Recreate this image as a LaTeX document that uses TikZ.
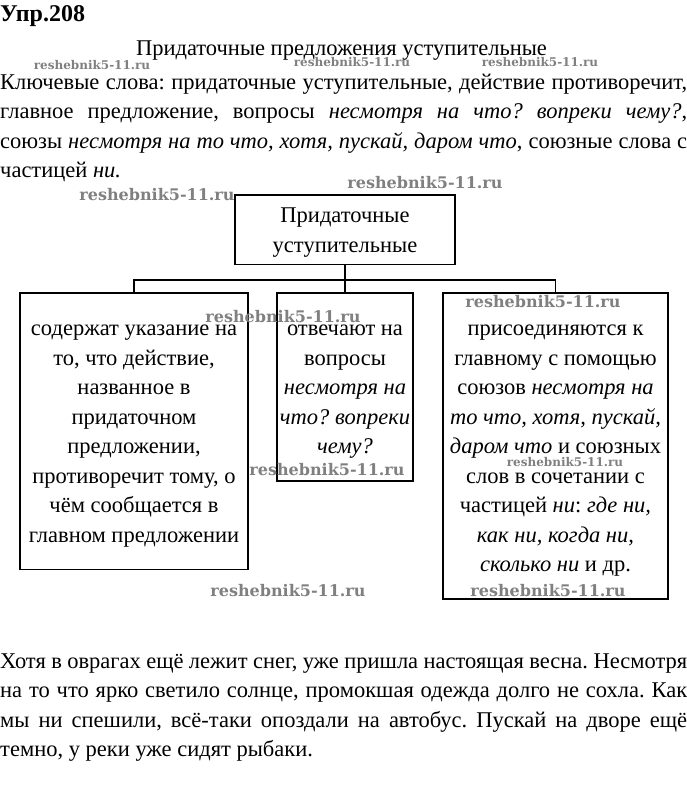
\documentclass[tikz,border=0pt]{standalone}
\usepackage{fontspec}
\setmainfont{Liberation Serif}
\newfontfamily\wmfont{DejaVu Serif}
\usetikzlibrary{positioning}
\newcommand{\txtfont}{\fontsize{22.5bp}{29.5bp}\selectfont}
\frenchspacing

\begin{document}
\begin{tikzpicture}[x=1bp,y=1bp,
  box/.style={draw,line width=1.6bp,align=center,inner xsep=3bp,inner ysep=27bp,text depth=0bp,anchor=north,font=\txtfont},
  link/.style={line width=1.6bp},
  para/.style={inner sep=0pt,text width=687bp,align=justify,anchor=north west,font=\txtfont},
  wm/.style={text=black!50,inner sep=0pt,font=\wmfont\bfseries\fontsize{16bp}{16bp}\selectfont},
  wmsmall/.style={wm,font=\wmfont\bfseries\fontsize{12bp}{12bp}\selectfont}
]
\useasboundingbox (0,0) rectangle (687,-791);
% heading and key words
\node[anchor=base west,inner sep=0pt,font=\bfseries\fontsize{24bp}{26bp}\selectfont] (exNum) at (0,-22) {Упр.208};
\node[anchor=base,inner sep=0pt,font=\txtfont] (heading) at (341.5,-56) {Придаточные предложения уступительные};
\node[para] (keys) at (0,-73) {\rule{0pt}{16bp}Ключевые слова: придаточные уступительные, действие противоречит,\linebreak
  главное предложение, вопросы \textit{несмотря на что? вопреки чему?},\linebreak
  союзы \textit{несмотря на то что, хотя, пускай, даром что}, союзные слова с\linebreak
  частицей \textit{ни.}};
% scheme
\node[box,minimum width=220bp,inner ysep=12bp,text height=45.5bp] (main) at (345,-194) {Придаточные\\уступительные};
\node[box,minimum width=228bp,text height=222.5bp] (meaning) at (134,-292)
  {содержат указание на\\то, что действие,\\названное в\\придаточном\\предложении,\\противоречит тому, о\\чём сообщается в\\главном предложении};
\node[box,minimum width=136bp,text height=134bp] (questions) at (345,-292)
  {отвечают на\\вопросы\\\textit{несмотря на}\\\textit{что? вопреки}\\\textit{чему?}};
\node[box,minimum width=225bp,text height=252bp] (links) at (555.5,-292)
  {присоединяются к\\главному с помощью\\союзов \textit{несмотря на}\\\textit{то что, хотя, пускай,}\\\textit{даром что} и союзных\\слов в сочетании с\\частицей \textit{ни}: \textit{где ни,}\\\textit{как ни, когда ни,}\\\textit{сколько ни} и др.};
\coordinate (hub) at (345,-280);
\draw[link] (main.south) -- (questions.north);
\draw[link] (meaning.north) |- (hub) -| (links.north);
% examples
\node[para] (examples) at (0,-652) {\rule{0pt}{16bp}Хотя в оврагах ещё лежит снег, уже пришла настоящая весна. Несмотря\linebreak
  на то что ярко светило солнце, промокшая одежда долго не сохла. Как\linebreak
  мы ни спешили, всё-таки опоздали на автобус. Пускай на дворе ещё\linebreak
  темно, у реки уже сидят рыбаки.};
% watermarks
\node[wmsmall] (wmA) at (92,-65) {reshebnik5-11.ru};
\node[wmsmall] (wmB) at (352,-62) {reshebnik5-11.ru};
\node[wmsmall] (wmC) at (540,-62) {reshebnik5-11.ru};
\node[wm] (wmD) at (425,-183) {reshebnik5-11.ru};
\node[wm] (wmE) at (157,-195) {reshebnik5-11.ru};
\node[wm] (wmF) at (283,-317) {reshebnik5-11.ru};
\node[wm] (wmG) at (543,-302) {reshebnik5-11.ru};
\node[wm] (wmH) at (327,-470) {reshebnik5-11.ru};
\node[wmsmall] (wmI) at (565,-462) {reshebnik5-11.ru};
\node[wm] (wmJ) at (288,-591) {reshebnik5-11.ru};
\node[wm] (wmK) at (548,-591) {reshebnik5-11.ru};
\end{tikzpicture}
\end{document}
